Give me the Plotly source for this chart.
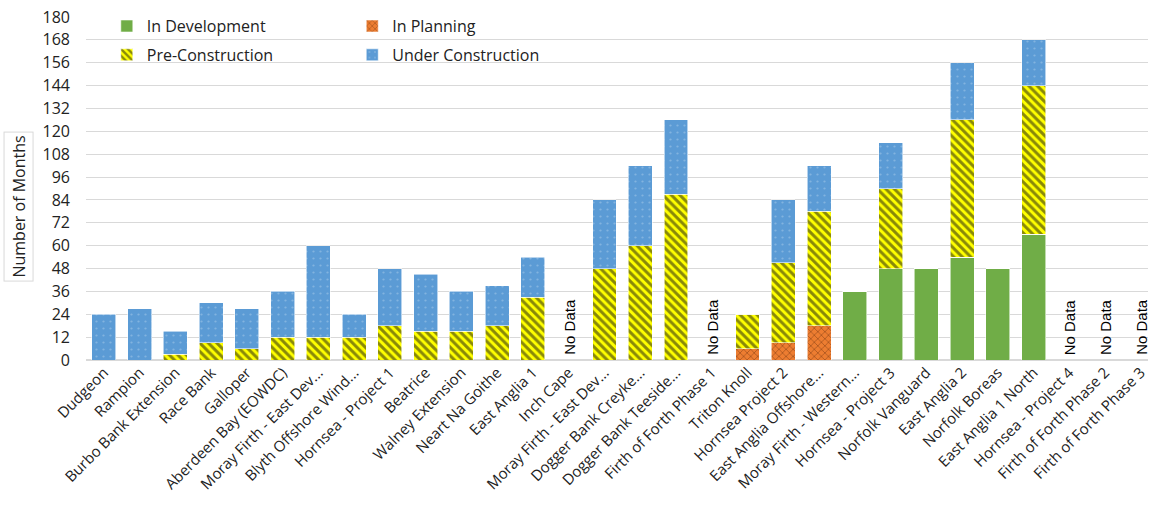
import plotly.graph_objects as go

categories = ["Dudgeon", "Rampion", "Burbo Bank Extension", "Race Bank", "Galloper",
              "Aberdeen Bay (EOWDC)", "Moray Firth - East Dev...", "Blyth Offshore Wind...",
              "Hornsea - Project 1", "Beatrice", "Walney Extension", "Neart Na Goithe",
              "East Anglia 1", "Inch Cape", "Moray Firth - East Dev...", "Dogger Bank Creyke...",
              "Dogger Bank Teeside...", "Firth of Forth Phase 1", "Triton Knoll",
              "Hornsea Project 2", "East Anglia Offshore...", "Moray Firth - Western...",
              "Hornsea - Project 3", "Norfolk Vanguard", "East Anglia 2", "Norfolk Boreas",
              "East Anglia 1 North", "Hornsea - Project 4", "Firth of Forth Phase 2",
              "Firth of Forth Phase 3"]

in_development = [0, 0, 0, 0, 0, 0, 0, 0, 0, 0, 0, 0, 0, 0, 0, 0, 0, 0, 0, 0, 0,
                  36, 48, 48, 54, 48, 66, 0, 0, 0]
in_planning = [0, 0, 0, 0, 0, 0, 0, 0, 0, 0, 0, 0, 0, 0, 0, 0, 0, 0, 6, 9, 18,
               0, 0, 0, 0, 0, 0, 0, 0, 0]
pre_construction = [0, 0, 3, 9, 6, 12, 12, 12, 18, 15, 15, 18, 33, 0, 48, 60, 87, 0, 18, 42, 60,
                    0, 42, 0, 72, 0, 78, 0, 0, 0]
under_construction = [24, 27, 12, 21, 21, 24, 48, 12, 30, 30, 21, 21, 21, 0, 36, 42, 39, 0, 0, 33, 24,
                      0, 24, 0, 30, 0, 24, 0, 0, 0]
no_data = [False] * 13 + [True] + [False] * 3 + [True] + [False] * 9 + [True, True, True]

y_ticks = list(range(0, 181, 12))

x = list(range(len(categories)))
FONT = "Open Sans"
edge = dict(color="rgba(255,255,255,0.7)", width=0.8)

fig = go.Figure()
fig.add_trace(go.Bar(x=x, y=in_development, name="In Development", legend="legend",
                     legendgroup="a",
                     marker=dict(color="#70AD47", line=edge)))
fig.add_trace(go.Bar(x=x, y=in_planning, name="In Planning", legend="legend2",
                     legendgroup="b",
                     marker=dict(color="#ED7D31", line=edge,
                                 pattern=dict(shape="x", fgcolor="#6A300C", bgcolor="#ED7D31",
                                              size=5, solidity=0.3))))
fig.add_trace(go.Bar(x=x, y=pre_construction, name="Pre-Construction", legend="legend",
                     legendgroup="c",
                     marker=dict(color="#FFFF00", line=edge,
                                 pattern=dict(shape="\\", fgcolor="#111111", bgcolor="#FFFF00",
                                              size=6, solidity=0.5))))
fig.add_trace(go.Bar(x=x, y=under_construction, name="Under Construction", legend="legend2",
                     legendgroup="d",
                     marker=dict(color="#5B9BD5", line=edge,
                                 pattern=dict(shape=".", fgcolor="#A9CBEA", bgcolor="#5B9BD5",
                                              size=7, solidity=0.08))))

for i, nd in enumerate(no_data):
    if nd:
        fig.add_annotation(x=x[i], y=0, xref="x", yref="y", text="No Data", textangle=-90,
                           showarrow=False, yanchor="bottom", yshift=3,
                           font=dict(family="Liberation Sans", size=15, color="#000000"))

fig.add_annotation(text="Number of Months", textangle=-90, xref="paper", yref="paper",
                   x=-0.0635, y=0.446, xanchor="center", yanchor="middle", showarrow=False,
                   bordercolor="#D9D9D9", borderwidth=1, borderpad=3, bgcolor="white",
                   font=dict(family=FONT, size=16, color="#222222"))

legend_common = dict(orientation="v", traceorder="grouped", bgcolor="rgba(0,0,0,0)",
                     font=dict(family=FONT, size=16, color="#222222"),
                     xanchor="left", yanchor="top", itemwidth=30, tracegroupgap=5)

fig.update_layout(
    barmode="stack",
    bargap=0.33,
    width=1159, height=523,
    margin=dict(l=86, r=11, t=17, b=163, autoexpand=False),
    paper_bgcolor="white", plot_bgcolor="white",
    font=dict(family=FONT, size=15, color="#222222"),
    legend=dict(x=0.0196, y=1.023, **legend_common),
    legend2=dict(x=0.2507, y=1.023, **legend_common),
    xaxis=dict(range=[-0.5, 29.2], tickmode="array", tickvals=x, ticktext=categories,
               tickangle=-45, showgrid=False, zeroline=False, showline=False,
               ticks="", tickfont=dict(family=FONT, size=15, color="#222222")),
    yaxis=dict(range=[0, 180], tickmode="array", tickvals=y_ticks, showgrid=True,
               gridcolor="#D9D9D9", gridwidth=1, zeroline=True, zerolinecolor="#D9D9D9",
               zerolinewidth=1.5, ticks="", tickfont=dict(family=FONT, size=16, color="#222222"),
               ticklabelstandoff=15),
)

fig.write_html("out.html")
